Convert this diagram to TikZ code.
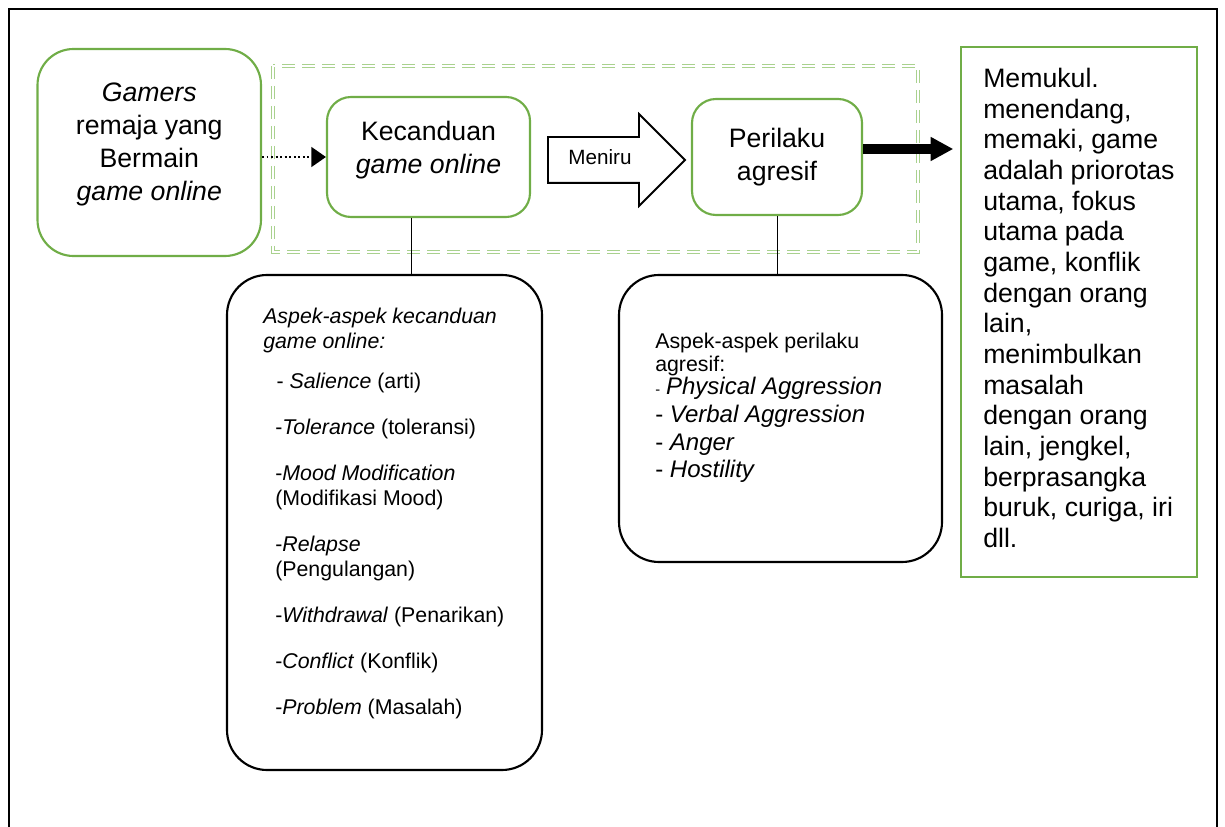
\documentclass[tikz,border=0pt]{standalone}
\usepackage{fontspec}
\setmainfont{Liberation Sans}
\usetikzlibrary{arrows.meta,shapes.arrows}
\definecolor{hijau}{RGB}{112,173,71}
\definecolor{hijaumuda}{RGB}{169,209,142}
\tikzset{kotak/.style={draw=hijau, line width=1.6pt, rounded corners=18pt, align=center, font=\fontsize{20pt}{24.75pt}\selectfont}}
\tikzset{aspek/.style={draw, line width=1.6pt, rounded corners=30pt}}
\tikzset{teks/.style={align=left, inner sep=0pt, anchor=north west}}
\tikzset{garis/.style={line width=0.75pt}}

\begin{document}
\begin{tikzpicture}[x=0.75pt, y=-0.75pt]
        \useasboundingbox (0,0) rectangle (1225,827);
        \draw[line width=2.2pt] (9,827) -- (9,9) -- (1217,9) -- (1217,827);

        % kelompok putus-putus
        \draw[hijaumuda, line width=0.8pt, double=white, double distance=0.9pt, dash pattern=on 10pt off 5pt] (273,66) rectangle (918,252);

        \node[kotak, rounded corners=27pt, minimum width=167.6pt, minimum height=155.25pt, text depth=16pt] (gamers) at (149.25,152.5)
        {\textit{Gamers}\\remaja yang\\Bermain\\\textit{game online}};
        \node[kotak, minimum width=152.25pt, minimum height=90pt, text depth=14pt] (kecanduan) at (428.5,157)
        {Kecanduan\\\textit{game online}};
        \node[kotak, minimum width=127.5pt, minimum height=87pt] (perilaku) at (777,157)
        {Perilaku\\agresif};
        \node[draw=hijau, line width=1.6pt, minimum width=177pt, minimum height=397.5pt] (hasil) at (1079,312) {};
        \node[draw, single arrow, single arrow head extend=17.25pt, single arrow head indent=0pt, minimum height=102.75pt, minimum width=67.5pt, line width=1.4pt, inner xsep=0pt, text height=11pt, text depth=3.5pt, inner ysep=9.25pt, font=\fontsize{15.5pt}{18pt}\selectfont] (meniru) at (605,160) {Meniru\hspace*{7.5pt}};

        \node[aspek, minimum width=236.25pt, minimum height=371.25pt] (aspekA) at (384.5,522.5) {};
        \node[aspek, minimum width=242.25pt, minimum height=215.25pt] (aspekB) at (780.5,418.5) {};

        \node[teks, font=\fontsize{16pt}{18.75pt}\selectfont] (teksA) at (263,308)
        {\textit{Aspek-aspek kecanduan}\\\textit{game online:}\\[11.25pt]
        \hspace*{10pt}- \textit{Salience} (arti)\\[15.75pt]
        \hspace*{9pt}-\textit{Tolerance} (toleransi)\\[15.75pt]
        \hspace*{9pt}-\textit{Mood Modification}\\
        \hspace*{9pt}(Modifikasi Mood)\\[15.75pt]
        \hspace*{9pt}-\textit{Relapse}\\
        \hspace*{9pt}(Pengulangan)\\[15.75pt]
        \hspace*{9pt}-\textit{Withdrawal} (Penarikan)\\[15.75pt]
        \hspace*{9pt}-\textit{Conflict} (Konflik)\\[15.75pt]
        \hspace*{9pt}-\textit{Problem} (Masalah)};
        \node[teks, font=\fontsize{16pt}{17.25pt}\selectfont] (teksB) at (655,333)
        {Aspek-aspek perilaku\\agresif:\\
        {\fontsize{11pt}{12pt}\selectfont -} {\fontsize{18pt}{20pt}\selectfont\textit{Physical Aggression}}\\[3.5pt]
        {\fontsize{18pt}{20pt}\selectfont - \textit{Verbal Aggression}}\\[3.5pt]
        {\fontsize{18pt}{20pt}\selectfont - \textit{Anger}}\\[3.5pt]
        {\fontsize{18pt}{20pt}\selectfont - \textit{Hostility}}};
        \node[teks, font=\fontsize{20pt}{23pt}\selectfont] (teksHasil) at (983,68)
        {Memukul.\\menendang,\\memaki, game\\adalah priorotas\\utama, fokus\\utama pada\\game, konflik\\dengan orang\\lain,\\menimbulkan\\masalah\\dengan orang\\lain, jengkel,\\berprasangka\\buruk, curiga, iri\\dll.};

        \draw[dotted, line width=1.4pt, -{Triangle[length=11pt,width=15pt]}] (gamers.east |- kecanduan.west) -- (kecanduan.west);
        \draw[line width=7.5pt, -{Triangle[length=17pt,width=17pt]}] ([yshift=6pt]perilaku.east) -- ([xshift=-5pt,yshift=6pt]hasil.west |- perilaku.east);
        \draw[garis] ([xshift=-12.4pt]kecanduan.south) -- ([xshift=-12.4pt]kecanduan.south |- aspekA.north);
        \draw[garis] (perilaku.south) -- (perilaku.south |- aspekB.north);
\end{tikzpicture}
\end{document}
